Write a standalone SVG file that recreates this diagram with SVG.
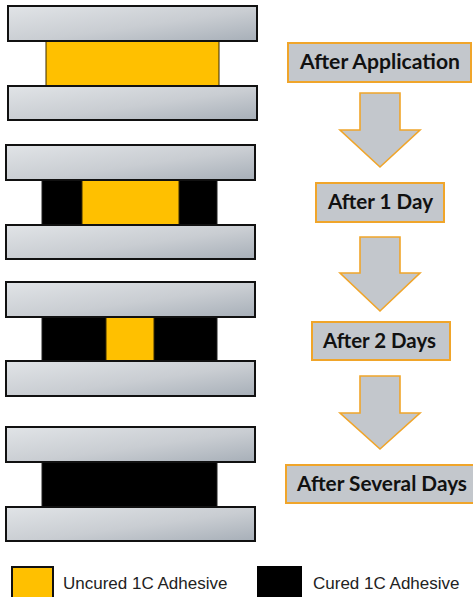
<svg xmlns="http://www.w3.org/2000/svg" width="473" height="597" viewBox="0 0 473 597">
<defs>
<linearGradient id="plateGrad" x1="0" y1="0" x2="1" y2="1">
<stop offset="0" stop-color="#e1e4e7"/>
<stop offset="0.55" stop-color="#c9cdd2"/>
<stop offset="1" stop-color="#a7afb8"/>
</linearGradient>
</defs>
<style>
.plate{fill:url(#plateGrad);stroke:#111;stroke-width:2}
.uncured{fill:#ffc000;stroke:#3a2a00;stroke-width:1}
.cured{fill:#000;stroke:#222;stroke-width:1}
.label{fill:#c3c7cc;stroke:#f0a52a;stroke-width:2}
.arrow{fill:#c3c7cc;stroke:#f0a52a;stroke-width:1.6;stroke-linejoin:miter}
.ltxt{font-family:Lato,"Open Sans","Liberation Sans",sans-serif;font-weight:bold;font-size:20px;fill:#111;text-anchor:middle}
.legtxt{font-family:"Liberation Sans",Arial,sans-serif;font-size:17px;fill:#222}
</style>
<rect width="473" height="597" fill="#fff"/>

<g id="stage1">
<rect class="uncured" x="46" y="41" width="173" height="45"/>
<rect class="plate" x="8" y="6" width="249" height="35"/>
<rect class="plate" x="8" y="86" width="249" height="34"/>
</g>

<g id="stage2">
<rect class="cured" x="42" y="180" width="175" height="45"/>
<rect class="uncured" x="82" y="180" width="97" height="45"/>
<rect class="plate" x="6" y="145" width="249" height="35"/>
<rect class="plate" x="6" y="225" width="249" height="34"/>
</g>

<g id="stage3">
<rect class="cured" x="42" y="317" width="175" height="44"/>
<rect class="uncured" x="106" y="317" width="48" height="44"/>
<rect class="plate" x="6" y="282" width="249" height="35"/>
<rect class="plate" x="6" y="361" width="249" height="35"/>
</g>

<g id="stage4">
<rect class="cured" x="42" y="462" width="175" height="45"/>
<rect class="plate" x="6" y="427" width="249" height="35"/>
<rect class="plate" x="6" y="507" width="249" height="34"/>
</g>

<g id="label-after-application">
<rect class="label" x="288" y="43" width="183" height="39"/>
<text class="ltxt" x="380" y="69" textLength="160" lengthAdjust="spacingAndGlyphs">After Application</text>
</g>
<g id="label-after-1-day">
<rect class="label" x="316" y="183" width="128" height="39"/>
<text class="ltxt" x="380.5" y="209" textLength="105" lengthAdjust="spacingAndGlyphs">After 1 Day</text>
</g>
<g id="label-after-2-days">
<rect class="label" x="312" y="322" width="138" height="38"/>
<text class="ltxt" x="379.5" y="348" textLength="113" lengthAdjust="spacingAndGlyphs">After 2 Days</text>
</g>
<g id="label-after-several-days">
<rect class="label" x="286" y="465" width="190" height="38"/>
<text class="ltxt" x="382" y="491" textLength="170" lengthAdjust="spacingAndGlyphs">After Several Days</text>
</g>

<g id="connectors">
<polygon class="arrow" points="360,93 400,93 400,130 420,130 380,167 340,130 360,130"/>
<polygon class="arrow" points="360,237 400,237 400,273 420,273 380,311 340,273 360,273"/>
<polygon class="arrow" points="360,376 400,376 400,413 420,413 380,449 340,413 360,413"/>
</g>

<g id="legend-uncured">
<rect x="12" y="567" width="41" height="34" fill="#ffc000" stroke="#111" stroke-width="2"/>
<text class="legtxt" x="63" y="589">Uncured 1C Adhesive</text>
</g>
<g id="legend-cured">
<rect x="257" y="566" width="45" height="35" fill="#000"/>
<text class="legtxt" x="313" y="589">Cured 1C Adhesive</text>
</g>
</svg>
